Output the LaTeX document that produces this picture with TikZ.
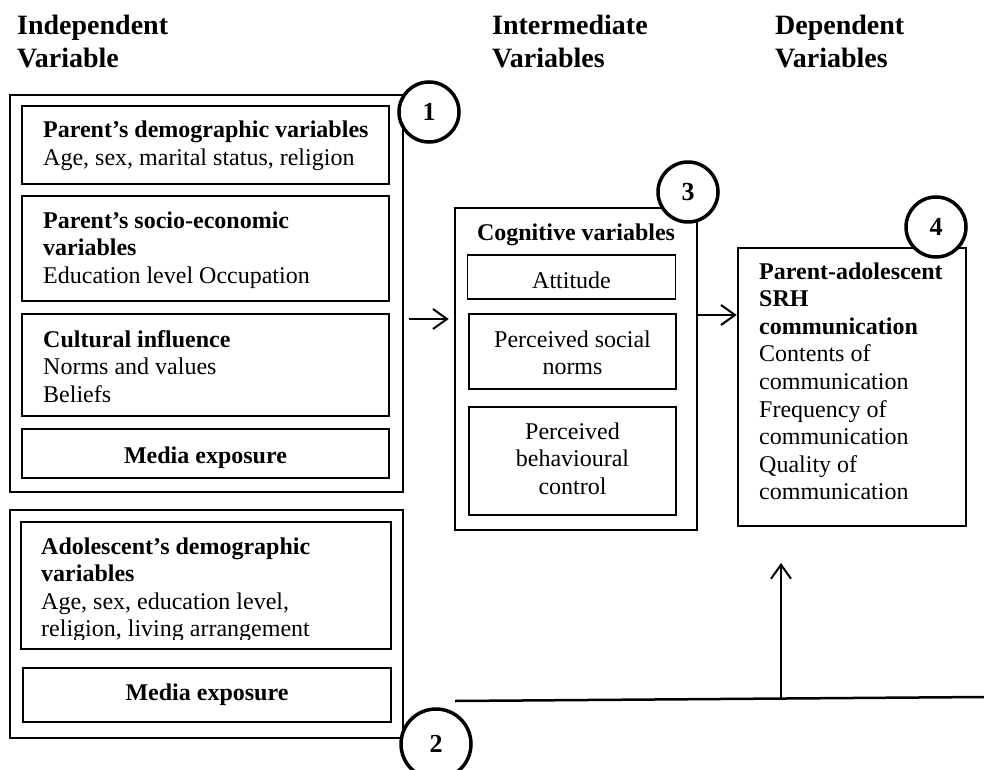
\documentclass[tikz,border=0pt]{standalone}
\usepackage{fontspec}
\setmainfont{Liberation Serif}
\usetikzlibrary{arrows.meta,calc}
\newcommand\bodyf{\fontsize{24}{27.6}\selectfont}
\newcommand\headf{\fontsize{28}{33}\selectfont\bfseries}
\tikzset{
  outerbox/.style={draw, line width=2.6pt, rectangle, inner sep=0pt},
  innerbox/.style={draw, line width=1.2pt, rectangle, inner sep=0pt},
  num/.style={circle, draw, fill=white, line width=3.5pt, inner sep=0pt, minimum size=60pt, font=\fontsize{26}{26}\selectfont\bfseries},
  txt/.style={anchor=base west, inner sep=0pt},
  ctxt/.style={anchor=base, inner sep=0pt},
  arr/.style={line width=2pt, -{Straight Barb[length=14pt,width=20pt]}},
  plain/.style={line width=2.5pt}
}
\begin{document}
\begin{tikzpicture}[x=1pt,y=-1pt]
\useasboundingbox (0,0) rectangle (984,770);
% headers
\node[txt] (h1) at (17,35) {\headf\parbox[t]{250pt}{Independent\\Variable}};
\node[txt] (h2) at (492,35) {\headf\parbox[t]{250pt}{Intermediate\\Variables}};
\node[txt] (h3) at (775,35) {\headf\parbox[t]{200pt}{Dependent\\Variables}};
% box 1
\node[outerbox, minimum width=393pt, minimum height=397pt] (b1) at (206.5,293.5) {};
\node[innerbox, minimum width=367pt, minimum height=78pt] (bA) at (205.5,145) {};
\node[innerbox, minimum width=367pt, minimum height=105pt] (bB) at (205.5,248.5) {};
\node[innerbox, minimum width=367pt, minimum height=102pt] (bC) at (205.5,365) {};
\node[innerbox, minimum width=367pt, minimum height=49pt] (bM1) at (205.5,453.5) {};
\node[txt] (tA) at (43,138) {\bodyf\parbox[t]{345pt}{\textbf{Parent's demographic variables}\\Age, sex, marital status, religion}};
\node[txt] (tB) at (43,228) {\bodyf\parbox[t]{345pt}{\textbf{Parent's socio-economic}\\\textbf{variables}\\Education level Occupation}};
\node[txt] (tC) at (43,347) {\bodyf\parbox[t]{345pt}{\textbf{Cultural influence}\\Norms and values\\Beliefs}};
\node[ctxt] (tM1) at (205.5,463) {\bodyf\bfseries Media exposure};
% box 2
\node[outerbox, minimum width=393pt, minimum height=228pt] (b2) at (206.5,624) {};
\node[innerbox, minimum width=370pt, minimum height=127pt] (bD) at (206,585.5) {};
\node[innerbox, minimum width=368pt, minimum height=54pt] (bM2) at (207,695) {};
\begin{scope}
\clip (0,0) rectangle (984,639);
\node[txt] (tD) at (41,554) {\bodyf\parbox[t]{345pt}{\textbf{Adolescent's demographic}\\\textbf{variables}\\Age, sex, education level,\\religion, living arrangement}};
\end{scope}
\node[ctxt] (tM2) at (207,700) {\bodyf\bfseries Media exposure};
% box 3
\node[outerbox, minimum width=242pt, minimum height=322pt] (b3) at (576,369) {};
\node[ctxt] (cog) at (576,240) {\bodyf\bfseries Cognitive variables};
\node[innerbox, minimum width=208pt, minimum height=44pt] (bE) at (571.5,277) {};
\node[innerbox, minimum width=207pt, minimum height=75pt] (bF) at (572.5,351.5) {};
\node[innerbox, minimum width=207pt, minimum height=108pt] (bG) at (572.5,461) {};
\node[ctxt] (tE) at (571.5,288) {\bodyf Attitude};
\node[ctxt] (tF) at (572.5,347) {\bodyf\parbox[t]{200pt}{\centering Perceived social\\norms}};
\node[ctxt] (tG) at (572.5,439) {\bodyf\parbox[t]{200pt}{\centering Perceived\\behavioural\\control}};
% box 4
\node[outerbox, minimum width=228pt, minimum height=278pt] (b4) at (852,387) {};
\node[txt] (tH) at (759,279) {\bodyf\parbox[t]{205pt}{\textbf{Parent-adolescent}\\\textbf{SRH}\\\textbf{communication}\\Contents of\\communication\\Frequency of\\communication\\Quality of\\communication}};
% arrows
\draw[arr] ([xshift=5pt,yshift=-25.5pt]b1.east) -- ([xshift=-5pt,yshift=50pt]b3.west);
\draw[arr] ([yshift=54pt]b3.east) -- ([yshift=72pt]b4.west);
\coordinate (L1) at (455,701);
\coordinate (L2) at (984,697);
\draw[plain] (L1) -- (L2);
\coordinate (U1) at (781,698.5);
\coordinate (U2) at (781,563);
\draw[arr] (U1) -- (U2);
% number circles
\node[num] (c1) at (429,112) {1};
\node[num] (c3) at (688,192) {3};
\node[num] (c4) at (936,227) {4};
\node[num, minimum size=70pt] (c2) at (436,744) {2};
\end{tikzpicture}
\end{document}
